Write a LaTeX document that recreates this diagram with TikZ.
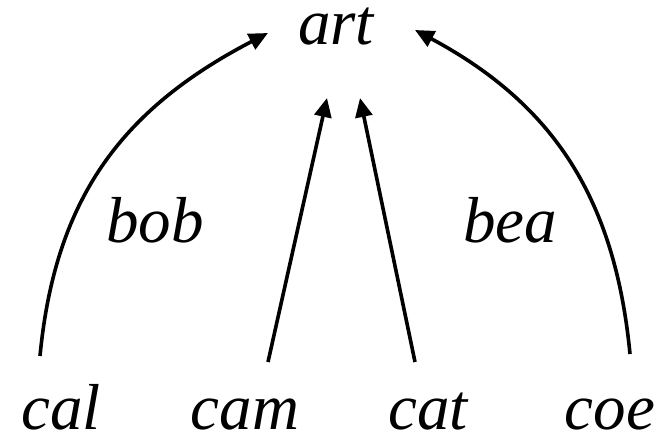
\documentclass[tikz,border=0pt]{standalone}
\usepackage{fontspec}
\setmainfont{Liberation Serif}
\usetikzlibrary{arrows.meta}
\begin{document}
\begin{tikzpicture}[x=1pt,y=-1pt,
  word/.style={inner sep=0pt,anchor=base,font=\fontsize{65}{70}\selectfont\itshape},
  edge/.style={line width=3.6pt,-{Triangle[length=19pt,width=17pt]}}]
\path[use as bounding box] (0,0) rectangle (668,441);
\node[word] (art) at (336,45) {art};
\node[word] (cal) at (61,429) {cal};
\node[word] (cam) at (245,429) {cam};
\node[word] (cat) at (428,429) {cat};
\node[word] (coe) at (610,429) {coe};
\node[word] (bob) at (155,242) {bob};
\node[word] (bea) at (510,242) {bea};
\draw[edge] ([shift={(-21,-73)}]cal.base) .. controls (55,200) and (120,110) .. ([shift={(-68,-12)}]art.base);
\draw[edge] ([shift={(23,-67)}]cam.base) -- ([shift={(-9,53)}]art.base);
\draw[edge] ([shift={(-13,-67)}]cat.base) -- ([shift={(24,53)}]art.base);
\draw[edge] ([shift={(20,-75)}]coe.base) .. controls (615,200) and (555,105) .. ([shift={(79,-15)}]art.base);
\end{tikzpicture}
\end{document}
